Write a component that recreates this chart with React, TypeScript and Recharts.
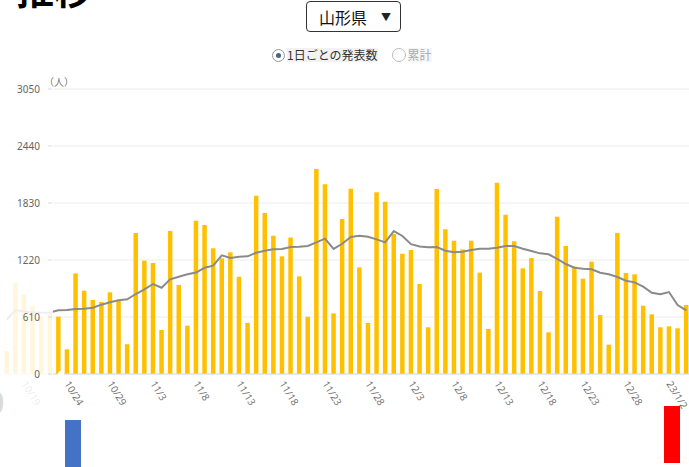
import { ComposedChart, Bar, Line, XAxis, YAxis, CartesianGrid } from 'recharts';

const dates = [
  '10/17', '10/18', '10/19', '10/20', '10/21', '10/22', '10/23', '10/24', '10/25', '10/26',
  '10/27', '10/28', '10/29', '10/30', '10/31',
  '11/1', '11/2', '11/3', '11/4', '11/5', '11/6', '11/7', '11/8', '11/9', '11/10',
  '11/11', '11/12', '11/13', '11/14', '11/15', '11/16', '11/17', '11/18', '11/19', '11/20',
  '11/21', '11/22', '11/23', '11/24', '11/25', '11/26', '11/27', '11/28', '11/29', '11/30',
  '12/1', '12/2', '12/3', '12/4', '12/5', '12/6', '12/7', '12/8', '12/9', '12/10',
  '12/11', '12/12', '12/13', '12/14', '12/15', '12/16', '12/17', '12/18', '12/19', '12/20',
  '12/21', '12/22', '12/23', '12/24', '12/25', '12/26', '12/27', '12/28', '12/29', '12/30',
  '12/31', '23/1/1', '23/1/2', '23/1/3', '23/1/4',
];

// daily reported cases
const daily = [
  246, 977, 856, 728, 613, 656, 613, 264, 1077, 891,
  792, 770, 874, 792, 318,
  1510, 1213, 1188, 471, 1530, 952, 517, 1641, 1594, 1345,
  1238, 1302, 1040, 547, 1908, 1723, 1480, 1259, 1462, 1045,
  612, 2193, 2030, 649, 1658, 1983, 1141, 546, 1944, 1844,
  1498, 1287, 1327, 963, 500, 1980, 1548, 1427, 1334, 1427,
  1084, 482, 2047, 1705, 1420, 1131, 1241, 888, 446, 1683,
  1370, 1152, 1020, 1202, 631, 314, 1509, 1081, 1067, 731,
  639, 500, 510, 489, 738,
];

// 7-day average
const average = [
  583, 685, 668, 660, 655, 658, 682, 685, 696, 699,
  709, 742, 767, 789, 799,
  856, 906, 963, 923, 1013, 1041, 1067, 1086, 1137, 1159,
  1270, 1241, 1255, 1259, 1298, 1319, 1334, 1338, 1359, 1362,
  1370, 1409, 1448, 1338, 1394, 1466, 1480, 1469, 1441, 1409,
  1530, 1477, 1390, 1364, 1356, 1359, 1319, 1302, 1309, 1327,
  1341, 1341, 1351, 1370, 1370, 1341, 1316, 1291, 1281, 1231,
  1177, 1138, 1127, 1120, 1084, 1067, 1038, 998, 981, 934,
  870, 853, 877, 738, 682,
];

const xTicks = [
  '10/19', '10/24', '10/29', '11/3', '11/8', '11/13', '11/18', '11/23',
  '11/28', '12/3', '12/8', '12/13', '12/18', '12/23', '12/28', '23/1/2',
];
const yTicks = [0, 610, 1220, 1830, 2440, 3050];

const data = dates.map((d, i) => ({ date: d, daily: daily[i], average: average[i] }));

const FONT = '"Noto Sans", "Noto Sans CJK JP", sans-serif';

function DateTick({ x, y, payload }: any) {
  return (
    <text
      x={x}
      y={y}
      dy="0.35em"
      transform={`rotate(58 ${x} ${y})`}
      textAnchor="start"
      fill="#777"
      fontSize={10}
      fontFamily={FONT}
    >
      {payload.value}
    </text>
  );
}

export default function App() {
  return (
    <div
      style={{
        position: 'absolute',
        left: 0,
        top: 0,
        width: 689,
        height: 467,
        overflow: 'hidden',
        background: '#fff',
        fontFamily: FONT,
      }}
    >
      {/* clipped heading above */}
      <div style={{ position: 'absolute', left: 16, top: -40, fontSize: 38, fontWeight: 700, color: '#000' }}>
        推移
      </div>
      <div style={{ position: 'absolute', left: -14, top: 380, fontSize: 32, fontWeight: 700, color: '#000' }}>0</div>

      {/* prefecture select */}
      <div
        style={{
          position: 'absolute',
          left: 306,
          top: 1,
          width: 93,
          height: 29,
          border: '1px solid #333',
          borderRadius: 4,
          fontFamily: '"Noto Sans CJK JP", sans-serif',
        }}
      >
        <span style={{ position: 'absolute', left: 12, top: 3, fontSize: 16, color: '#111' }}>山形県</span>
        <span style={{ position: 'absolute', right: 9, top: 7, fontSize: 10, color: '#222' }}>▼</span>
      </div>

      {/* radio buttons */}
      <div
        style={{
          position: 'absolute',
          left: 272,
          top: 48,
          display: 'flex',
          alignItems: 'center',
          fontFamily: '"Noto Sans CJK JP", sans-serif',
          fontSize: 12,
        }}
      >
        <span
          style={{
            width: 11,
            height: 11,
            borderRadius: '50%',
            border: '1px solid #999',
            display: 'inline-flex',
            alignItems: 'center',
            justifyContent: 'center',
          }}
        >
          <span style={{ width: 5, height: 5, borderRadius: '50%', background: '#4a6583' }} />
        </span>
        <span style={{ marginLeft: 2, color: '#333', background: '#f2f2f2', lineHeight: '14px' }}>1日ごとの発表数</span>
        <span
          style={{
            marginLeft: 14,
            width: 12,
            height: 12,
            borderRadius: '50%',
            border: '1px solid #bbb',
          }}
        />
        <span style={{ marginLeft: 2, color: '#aaa', background: '#f6f6f6', lineHeight: '14px' }}>累計</span>
      </div>

      <ComposedChart
        width={692}
        height={467}
        data={data}
        margin={{ top: 89, right: 1.5, bottom: 53, left: 2.5 }}
        style={{ position: 'absolute', left: 0, top: 0 }}
      >
        <CartesianGrid vertical={false} stroke="#ececec" />
        <XAxis
          dataKey="date"
          ticks={xTicks}
          interval={0}
          tick={<DateTick />}
          tickLine={false}
          axisLine={{ stroke: '#d3dcea' }}
          height={40}
        />
        <YAxis hide domain={[0, 3050]} ticks={yTicks} />
        <Bar dataKey="daily" fill="#ffc000" barSize={4.5} isAnimationActive={false} />
        <Line
          type="linear"
          dataKey="average"
          stroke="#8a8a8a"
          strokeWidth={2}
          dot={false}
          isAnimationActive={false}
        />
      </ComposedChart>

      {/* fade over the scrolled-off left edge */}
      <div
        style={{
          position: 'absolute',
          left: 0,
          top: 70,
          width: 53,
          height: 350,
          background: 'rgba(255,255,255,0.86)',
        }}
      />

      {/* fixed y axis */}
      <ComposedChart
        width={70}
        height={467}
        data={[{ v: 0 }]}
        margin={{ top: 89, right: 0, bottom: 93, left: 0 }}
        style={{ position: 'absolute', left: 0, top: 0 }}
      >
        <XAxis hide />
        <YAxis
          width={52}
          domain={[0, 3050]}
          ticks={yTicks}
          axisLine={false}
          tickSize={4}
          tickMargin={8}
          tickLine={{ stroke: '#d3dcea' }}
          tick={{ fontSize: 10, fill: '#666', fontFamily: FONT }}
        />
        <Line dataKey="v" stroke="none" dot={false} isAnimationActive={false} />
      </ComposedChart>
      <div
        style={{
          position: 'absolute',
          left: 44,
          top: 74,
          fontSize: 10,
          color: '#777',
          fontFamily: '"Noto Sans CJK JP", sans-serif',
        }}
      >
        （人）
      </div>

      {/* pieces of the next section */}
      <div style={{ position: 'absolute', left: 65, top: 420, width: 16, height: 47, background: '#4472c4' }} />
      <div style={{ position: 'absolute', left: 664, top: 406, width: 16, height: 57, background: '#ff0000' }} />
    </div>
  );
}
